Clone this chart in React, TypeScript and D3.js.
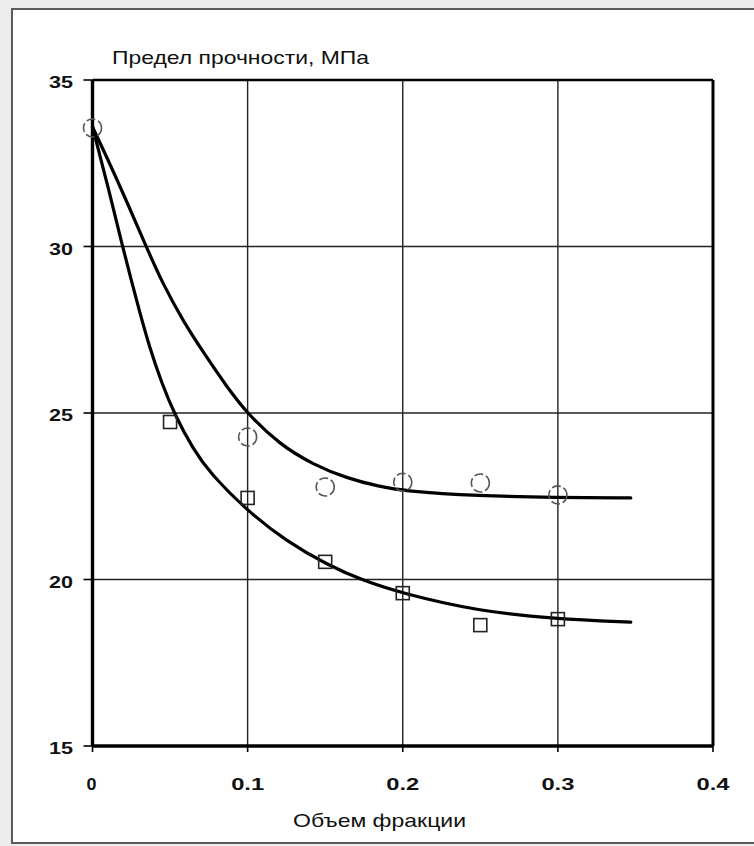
import React from "react";
import * as d3 from "d3";

// ---- data ----
const xTicks = [0, 0.1, 0.2, 0.3, 0.4];
const xTickLabels = ["0", "0.1", "0.2", "0.3", "0.4"];
const yTicks = [15, 20, 25, 30, 35];
const yTickLabels = ["15", "20", "25", "30", "35"];

const titleY = "Предел прочности, МПа";
const titleX = "Объем фракции";

// markers: circles (upper series)
const circleX = [0, 0.1, 0.15, 0.2, 0.25, 0.3];
const circleY = [33.56, 24.28, 22.78, 22.92, 22.9, 22.54];
// markers: squares (lower series)
const squareX = [0.05, 0.1, 0.15, 0.2, 0.25, 0.3];
const squareY = [24.73, 22.45, 20.53, 19.59, 18.63, 18.81];

// fitted curves, points
const upperCurveX = [0, 0.0156, 0.036, 0.0446, 0.0585, 0.0725, 0.0864, 0.1, 0.1208, 0.1423, 0.164, 0.185, 0.2006, 0.2487, 0.298, 0.347];
const upperCurveY = [33.59, 32.05, 29.85, 28.95, 27.75, 26.75, 25.8, 24.97, 24.05, 23.45, 23.04, 22.79, 22.66, 22.51, 22.46, 22.45];
const lowerCurveX = [0, 0.0103, 0.0199, 0.0252, 0.0306, 0.0366, 0.0446, 0.053, 0.065, 0.0757, 0.1, 0.125, 0.151, 0.1737, 0.2, 0.2487, 0.298, 0.347];
const lowerCurveY = [33.59, 31.75, 29.9, 28.95, 28.0, 27.0, 25.9, 24.95, 23.9, 23.2, 22.05, 21.15, 20.45, 19.98, 19.58, 19.05, 18.82, 18.72];

const W = 754;
const H = 846;
const M = { left: 92.5, right: 713, top: 80, bottom: 746 };

export default function App() {
  const x = d3.scaleLinear().domain([0, 0.4]).range([M.left, M.right]);
  const y = d3.scaleLinear().domain([15, 35]).range([M.bottom, M.top]);

  const line = d3
    .line<[number, number]>()
    .x((d) => x(d[0]))
    .y((d) => y(d[1]))
    .curve(d3.curveBasis);

  const upper = line(upperCurveX.map((v, i) => [v, upperCurveY[i]] as [number, number])) || "";
  const lower = line(lowerCurveX.map((v, i) => [v, lowerCurveY[i]] as [number, number])) || "";

  const font = "'Liberation Sans', Arial, Helvetica, sans-serif";
  const sq = 13;

  return (
    <svg
      width={W}
      height={H}
      style={{ position: "absolute", left: 0, top: 0, display: "block" }}
      fontFamily={font}
    >
      <rect x={0} y={0} width={W} height={H} fill="#ececec" />
      <rect x={12} y={9} width={W} height={834} fill="#ffffff" stroke="#5a5a5a" strokeWidth={2} />

      {/* gridlines */}
      {xTicks.slice(1, -1).map((t) => (
        <line key={"gx" + t} x1={x(t)} x2={x(t)} y1={y(35)} y2={y(15)} stroke="#222" strokeWidth={1.4} />
      ))}
      {yTicks.slice(1, -1).map((t) => (
        <line key={"gy" + t} x1={x(0)} x2={x(0.4)} y1={y(t)} y2={y(t)} stroke="#222" strokeWidth={1.4} />
      ))}

      {/* frame of plot */}
      <line x1={x(0)} x2={x(0.4)} y1={y(35)} y2={y(35)} stroke="#000" strokeWidth={2.6} />
      <line x1={x(0.4)} x2={x(0.4)} y1={y(35)} y2={y(15)} stroke="#000" strokeWidth={3} />
      <line x1={x(0)} x2={x(0.4)} y1={y(15)} y2={y(15)} stroke="#000" strokeWidth={3.4} />
      <line x1={x(0)} x2={x(0)} y1={y(35)} y2={y(15)} stroke="#000" strokeWidth={3.4} />

      {/* ticks */}
      {yTicks.map((t) => (
        <line key={"ty" + t} x1={x(0) - 9} x2={x(0)} y1={y(t)} y2={y(t)} stroke="#000" strokeWidth={1.6} />
      ))}
      {xTicks.map((t) => (
        <line key={"tx" + t} x1={x(t)} x2={x(t)} y1={y(15)} y2={y(15) + 6} stroke="#000" strokeWidth={1.6} />
      ))}

      {/* tick labels */}
      {yTicks.map((t, i) => (
        <text
          key={"ly" + t}
          x={73}
          y={y(t) + 8}
          textAnchor="end"
          fontSize={17}
          fontWeight="bold"
          fill="#111"
          textLength={24}
          lengthAdjust="spacingAndGlyphs"
        >
          {yTickLabels[i]}
        </text>
      ))}
      {xTicks.map((t, i) => (
        <text
          key={"lx" + t}
          x={x(t) + (i === 0 ? -1 : 0)}
          y={790}
          textAnchor="middle"
          fontSize={17}
          fontWeight="bold"
          fill="#111"
          textLength={i === 0 ? 10 : 33}
          lengthAdjust="spacingAndGlyphs"
        >
          {xTickLabels[i]}
        </text>
      ))}

      {/* titles */}
      <text x={112} y={64} fontSize={19} fill="#111" textLength={257} lengthAdjust="spacingAndGlyphs">
        {titleY}
      </text>
      <text x={293} y={827} fontSize={19} fill="#111" textLength={173} lengthAdjust="spacingAndGlyphs">
        {titleX}
      </text>

      {/* curves */}
      <path d={upper} fill="none" stroke="#000" strokeWidth={3.2} strokeLinejoin="round" strokeLinecap="round" />
      <path d={lower} fill="none" stroke="#000" strokeWidth={3.2} strokeLinejoin="round" strokeLinecap="round" />

      {/* markers */}
      {circleX.map((v, i) => (
        <circle
          key={"c" + i}
          cx={x(v)}
          cy={y(circleY[i])}
          r={9}
          fill="none"
          stroke="#555"
          strokeWidth={1.6}
          strokeDasharray="9 3"
        />
      ))}
      {squareX.map((v, i) => (
        <rect
          key={"s" + i}
          x={x(v) - sq / 2}
          y={y(squareY[i]) - sq / 2}
          width={sq}
          height={sq}
          fill="none"
          stroke="#222"
          strokeWidth={1.6}
        />
      ))}
    </svg>
  );
}
